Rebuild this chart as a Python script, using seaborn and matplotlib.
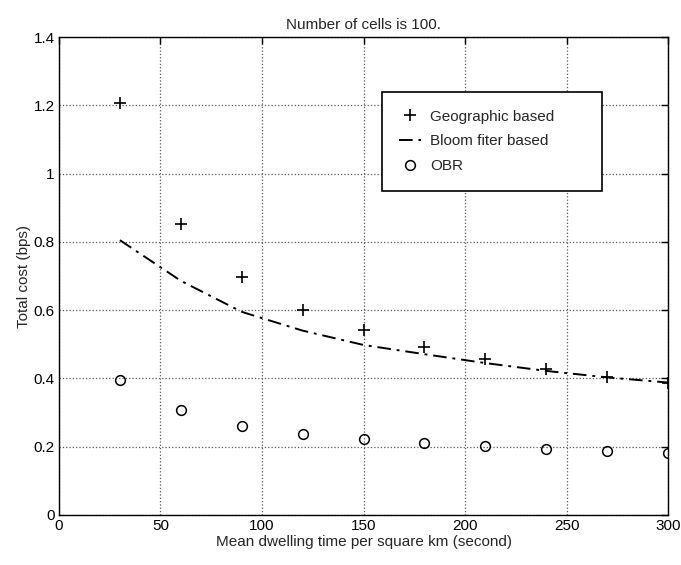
import numpy as np
import pandas as pd
import matplotlib
matplotlib.use("Agg")
import matplotlib.pyplot as plt
import seaborn as sns

# values
dwell_time = [30, 60, 90, 120, 150, 180, 210, 240, 270, 300]
geographic = [1.207, 0.853, 0.696, 0.601, 0.542, 0.493, 0.456, 0.427, 0.403, 0.386]
bloom = [0.805, 0.686, 0.595, 0.540, 0.498, 0.471, 0.445, 0.422, 0.403, 0.388]
obr = [0.394, 0.307, 0.262, 0.238, 0.223, 0.211, 0.202, 0.193, 0.186, 0.181]

x_ticks = [0, 50, 100, 150, 200, 250, 300]
y_ticks = [0, 0.2, 0.4, 0.6, 0.8, 1.0, 1.2, 1.4]
y_tick_labels = ["0", "0.2", "0.4", "0.6", "0.8", "1", "1.2", "1.4"]

df = pd.DataFrame({"x": dwell_time, "geo": geographic, "bloom": bloom, "obr": obr})

sns.set_theme(style="whitegrid")
plt.rcParams["font.family"] = ["Liberation Sans", "DejaVu Sans"]
plt.rcParams["font.size"] = 11

fig = plt.figure(figsize=(6.81, 5.65), dpi=100)
ax = fig.add_axes([0.0866, 0.0885, 0.8944, 0.846])

sns.lineplot(data=df, x="x", y="geo", ax=ax, color="black", marker="+",
             markersize=8.5, markeredgewidth=1.2, markeredgecolor="black",
             linestyle="none", label="Geographic based")
sns.lineplot(data=df, x="x", y="bloom", ax=ax, color="black", linewidth=1.4,
             linestyle=(0, (7, 3, 1.5, 3)), label="Bloom fiter based")
sns.lineplot(data=df, x="x", y="obr", ax=ax, color="black", marker="o",
             markersize=7, markerfacecolor="none", markeredgecolor="black",
             markeredgewidth=1.1, linestyle="none", label="OBR")

ax.set_xlim(0, 300)
ax.set_ylim(0, 1.4)
ax.set_xticks(x_ticks)
ax.set_yticks(y_ticks)
ax.set_yticklabels(y_tick_labels)
ax.tick_params(direction="in", length=5, width=1, colors="black",
               labelsize=11, top=True, right=True, pad=3)
ax.set_facecolor("white")
ax.grid(True, color="0.35", linestyle=":", linewidth=0.9)
for s in ax.spines.values():
    s.set_color("black")
    s.set_linewidth(1.0)

ax.set_title("Number of cells is 100.", fontsize=11, pad=6)
ax.set_xlabel("Mean dwelling time per square km (second)", fontsize=11, labelpad=1)
ax.set_ylabel("Total cost (bps)", fontsize=11, labelpad=2)

leg = ax.legend(loc="upper left", bbox_to_anchor=(0.53, 0.678, 0.362, 0.207),
                mode="expand", frameon=True, fancybox=False, fontsize=11,
                borderpad=1.15, labelspacing=0.7, handlelength=1.4,
                handletextpad=0.6, borderaxespad=0)
leg.get_frame().set_edgecolor("black")
leg.get_frame().set_linewidth(1.2)
leg.get_frame().set_alpha(1)

fig.savefig("out.png", dpi=100)
